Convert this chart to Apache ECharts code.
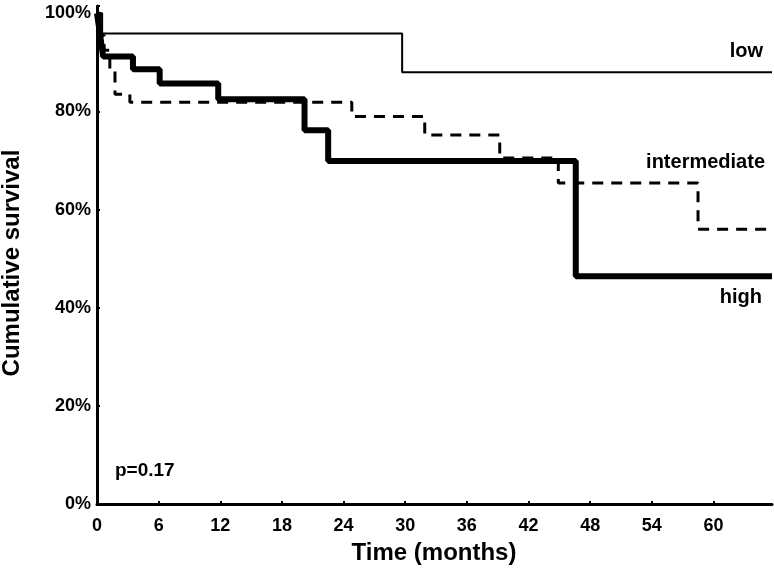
<!DOCTYPE html>
<html>
<head>
<meta charset="utf-8">
<script src="https://cdn.jsdelivr.net/npm/echarts@6/dist/echarts.min.js"></script>
<style>
  html, body { margin: 0; padding: 0; background: #fff; }
  #chart { width: 774px; height: 578px; }
</style>
</head>
<body>
<div id="chart"></div>
<script>
// Survival data: [time in months, cumulative survival %]
const lowData = [[0, 100], [0.5, 95.9], [29.7, 88.0], [65.7, 88.0]];
const intermediateData = [[0, 100], [0.3, 95.5], [0.7, 92.5], [1.25, 88.5], [1.75, 83.5], [3.2, 81.9], [24.8, 79.0], [31.9, 75.2], [39.2, 70.5], [44.9, 65.4], [58.5, 56.0], [65.7, 56.0]];
const highData = [[0, 100], [0.15, 97.8], [0.3, 95.6], [0.45, 93.4], [0.6, 91.2], [3.5, 88.6], [6.1, 85.7], [11.8, 82.5], [20.2, 76.2], [22.5, 69.9], [46.6, 46.4], [65.7, 46.4]];
const xTicks = [0, 6, 12, 18, 24, 30, 36, 42, 48, 54, 60];
const yTicks = [0, 20, 40, 60, 80, 100];
const groupLabels = ['low', 'intermediate', 'high'];
const pValueText = 'p=0.17';
const xTitle = 'Time (months)';
const yTitle = 'Cumulative survival';

const chart = echarts.init(document.getElementById('chart'), null, { renderer: 'canvas' });
const FONT = '"Liberation Sans", Arial, sans-serif';

chart.setOption({
  animation: false,
  backgroundColor: '#fff',
  grid: { left: 97, right: 2, top: 6, bottom: 74, containLabel: false },
  xAxis: {
    type: 'value', min: 0, max: 65.7, interval: 6,
    splitLine: { show: false },
    axisLine: { show: true, onZero: false, lineStyle: { color: '#000', width: 3 } },
    axisTick: { show: true, inside: true, length: 3, lineStyle: { color: '#000', width: 2 } },
    axisLabel: {
      margin: 13, color: '#000', fontFamily: FONT, fontWeight: 'bold', fontSize: 18,
      showMaxLabel: false,
      formatter: v => xTicks.indexOf(v) >= 0 ? String(v) : ''
    }
  },
  yAxis: {
    type: 'value', min: 0, max: 101.5, interval: 20,
    splitLine: { show: false },
    axisLine: { show: true, onZero: false, lineStyle: { color: '#000', width: 3 } },
    axisTick: { show: true, inside: true, length: 3, lineStyle: { color: '#000', width: 2 } },
    axisLabel: {
      margin: 6, color: '#000', fontFamily: FONT, fontWeight: 'bold', fontSize: 18,
      showMaxLabel: true,
      formatter: v => yTicks.indexOf(v) >= 0 ? v + '%' : ''
    }
  },
  series: [
    {
      name: groupLabels[1], type: 'line', step: 'end', data: intermediateData,
      symbol: 'none', z: 2,
      lineStyle: { color: '#000', width: 3, type: [11, 8] }
    },
    {
      name: groupLabels[2], type: 'line', step: 'end', data: highData,
      symbol: 'none', z: 3,
      lineStyle: { color: '#000', width: 6 }
    },
    {
      name: groupLabels[0], type: 'line', step: 'end', data: lowData,
      symbol: 'none', z: 4,
      lineStyle: { color: '#000', width: 2 }
    }
  ],
  graphic: [
    { type: 'text', x: 763, y: 51, style: { text: groupLabels[0], font: 'bold 20px ' + FONT, fill: '#000', textAlign: 'right', textVerticalAlign: 'middle' } },
    { type: 'text', x: 765, y: 162, style: { text: groupLabels[1], font: 'bold 20px ' + FONT, fill: '#000', textAlign: 'right', textVerticalAlign: 'middle' } },
    { type: 'text', x: 762, y: 297, style: { text: groupLabels[2], font: 'bold 20px ' + FONT, fill: '#000', textAlign: 'right', textVerticalAlign: 'middle' } },
    { type: 'text', x: 115, y: 471, style: { text: pValueText, font: 'bold 19px ' + FONT, fill: '#000', textAlign: 'left', textVerticalAlign: 'middle' } },
    { type: 'text', x: 434, y: 553, style: { text: xTitle, font: 'bold 24px ' + FONT, fill: '#000', textAlign: 'center', textVerticalAlign: 'middle' } },
    { type: 'text', x: 12, y: 263, rotation: Math.PI / 2, style: { text: yTitle, font: 'bold 24px ' + FONT, fill: '#000', textAlign: 'center', textVerticalAlign: 'middle' } }
  ]
});
</script>
</body>
</html>
